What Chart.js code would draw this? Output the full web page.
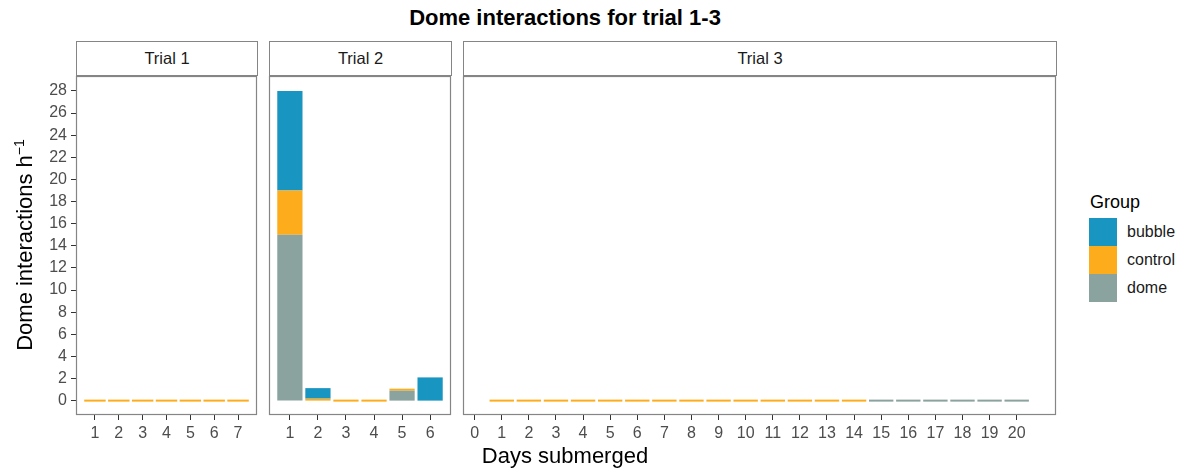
<!DOCTYPE html>
<html>
<head>
<meta charset="utf-8">
<script src="https://cdn.jsdelivr.net/npm/chart.js@4.4.1/dist/chart.umd.min.js"></script>
<style>
  body { margin: 0; background: #fff; font-family: 'Liberation Sans', Arial, sans-serif; }
  #wrap { position: relative; width: 1194px; height: 474px; overflow: hidden; background: #fff; }
  .panel { position: absolute; top: 60px; height: 414px; }
  .strip {
    position: absolute; top: 41px; height: 35px; box-sizing: border-box;
    border: 1px solid #858585; background: #fff;
    font-size: 16.5px; color: #1a1a1a; text-align: center; line-height: 33px;
  }
  .txt { position: absolute; white-space: nowrap; line-height: 22px; }
  .key { position: absolute; left: 1089px; width: 28px; height: 28px; }
  .lab { position: absolute; left: 1127px; font-size: 16px; color: #1a1a1a; line-height: 20px; }
</style>
</head>
<body>
<div id="wrap">
  <div class="txt" style="left:0; width:1130px; top:7px; text-align:center; font-size:22px; font-weight:bold; color:#000;">Dome interactions for trial 1-3</div>

  <div class="strip" style="left:76px; width:182px;">Trial 1</div>
  <div class="strip" style="left:269px; width:183px;">Trial 2</div>
  <div class="strip" style="left:463px; width:594px;">Trial 3</div>

  <div class="panel" style="left:0; width:262px;"><canvas id="trial1"></canvas></div>
  <div class="panel" style="left:264px; width:192px;"><canvas id="trial2"></canvas></div>
  <div class="panel" style="left:458px; width:603px;"><canvas id="trial3"></canvas></div>

  <div class="txt" style="left:415px; width:300px; top:445px; text-align:center; font-size:22px; color:#000;">Days submerged</div>
  <div class="txt" style="left:-125px; top:234px; width:300px; height:22px; text-align:center; font-size:22px; color:#000; transform:rotate(-90deg);">Dome interactions h<sup style="font-size:14px; line-height:0;">&minus;1</sup></div>

  <div class="txt" style="left:1090px; top:191px; font-size:18px; color:#000;">Group</div>
  <div class="key" style="top:218px; background:#1995c2;"></div>
  <div class="key" style="top:246px; background:#fdad1c;"></div>
  <div class="key" style="top:274px; background:#8ba39f;"></div>
  <div class="lab" style="top:222px;">bubble</div>
  <div class="lab" style="top:250px;">control</div>
  <div class="lab" style="top:278px;">dome</div>
</div>

<script>
// Groups, stacked bottom to top
const groupNames = ['dome', 'control', 'bubble'];
const groupColors = ['#8ba39f', '#fdad1c', '#1995c2'];

// y axis ticks (interactions per hour)
const yTicks = [0, 2, 4, 6, 8, 10, 12, 14, 16, 18, 20, 22, 24, 26, 28];

// Trial 1
const trial1Days = [1, 2, 3, 4, 5, 6, 7];
const trial1Ticks = [1, 2, 3, 4, 5, 6, 7];
const trial1Dome = [null, null, null, null, null, null, null];
const trial1Control = [0, 0, 0, 0, 0, 0, 0];
const trial1Bubble = [null, null, null, null, null, null, null];

// Trial 2
const trial2Days = [1, 2, 3, 4, 5, 6];
const trial2Ticks = [1, 2, 3, 4, 5, 6];
const trial2Dome = [15, null, null, null, 0.9, null];
const trial2Control = [4, 0.1, 0, 0, 0.15, null];
const trial2Bubble = [9, 0.95, null, null, null, 2.1];

// Trial 3
const trial3Days = [1, 2, 3, 4, 5, 6, 7, 8, 9, 10, 11, 12, 13, 14, 15, 16, 17, 18, 19, 20];
const trial3Ticks = [0, 1, 2, 3, 4, 5, 6, 7, 8, 9, 10, 11, 12, 13, 14, 15, 16, 17, 18, 19, 20];
const trial3Dome = [null, null, null, null, null, null, null, null, null, null, null, null, null, null, 0, 0, 0, 0, 0, 0];
const trial3Control = [0, 0, 0, 0, 0, 0, 0, 0, 0, 0, 0, 0, 0, 0, null, null, null, null, null, null];
const trial3Bubble = [null, null, null, null, null, null, null, null, null, null, null, null, null, null, null, null, null, null, null, null];

Chart.defaults.font.family = "'Liberation Sans', Arial, sans-serif";
Chart.defaults.color = '#4d4d4d';

const panelBorder = {
    id: 'panelBorder',
    afterDraw(chart) {
        const { ctx, chartArea: a } = chart;
        ctx.save();
        ctx.strokeStyle = '#858585';
        ctx.lineWidth = 1.2;
        ctx.strokeRect(a.left + 0.5, a.top + 0.5, a.right - a.left - 1, a.bottom - a.top - 1);
        ctx.restore();
    }
};

function makePanel(id, days, ticks, series, xMin, xMax, showY) {
    const ctx = document.getElementById(id).getContext('2d');

    const datasets = series.map((vals, i) => ({
        label: groupNames[i],
        data: days.map((d, j) => ({ x: d, y: vals[j] })),
        backgroundColor: groupColors[i],
        borderWidth: 0,
        minBarLength: 2,
        categoryPercentage: 0.9,
        barPercentage: 1.0
    }));

    // tick marks only, no grid lines inside the panel
    const tickGrid = {
        display: true,
        offset: false,
        drawOnChartArea: false,
        drawTicks: true,
        tickLength: 5,
        tickColor: '#333333',
        lineWidth: 1
    };

    return new Chart(ctx, {
        type: 'bar',
        data: { datasets: datasets },
        options: {
            responsive: true,
            maintainAspectRatio: false,
            animation: false,
            layout: { padding: { top: 16, bottom: 0, left: showY ? 0 : 5, right: 5 } },
            plugins: { legend: { display: false }, tooltip: { enabled: false } },
            scales: {
                x: {
                    type: 'linear',
                    stacked: true,
                    offset: false,
                    min: xMin,
                    max: xMax,
                    afterBuildTicks: scale => { scale.ticks = ticks.map(v => ({ value: v })); },
                    afterFit: scale => { scale.height = 59; },
                    ticks: {
                        font: { size: 16 },
                        color: '#4d4d4d',
                        padding: 4,
                        maxRotation: 0,
                        autoSkip: false
                    },
                    grid: tickGrid,
                    border: { display: false }
                },
                y: {
                    display: showY,
                    stacked: true,
                    min: -1.3,
                    max: 29.35,
                    afterBuildTicks: scale => { scale.ticks = yTicks.map(v => ({ value: v })); },
                    afterFit: scale => { if (showY) scale.width = 76; },
                    ticks: {
                        font: { size: 16 },
                        color: '#4d4d4d',
                        padding: 4,
                        autoSkip: false
                    },
                    grid: tickGrid,
                    border: { display: false }
                }
            }
        },
        plugins: [panelBorder]
    });
}

makePanel('trial1', trial1Days, trial1Ticks, [trial1Dome, trial1Control, trial1Bubble], 0.205, 7.795, true);
makePanel('trial2', trial2Days, trial2Ticks, [trial2Dome, trial2Control, trial2Bubble], 0.255, 6.745, false);
makePanel('trial3', trial3Days, trial3Ticks, [trial3Dome, trial3Control, trial3Bubble], -0.43, 21.45, false);
</script>
</body>
</html>
